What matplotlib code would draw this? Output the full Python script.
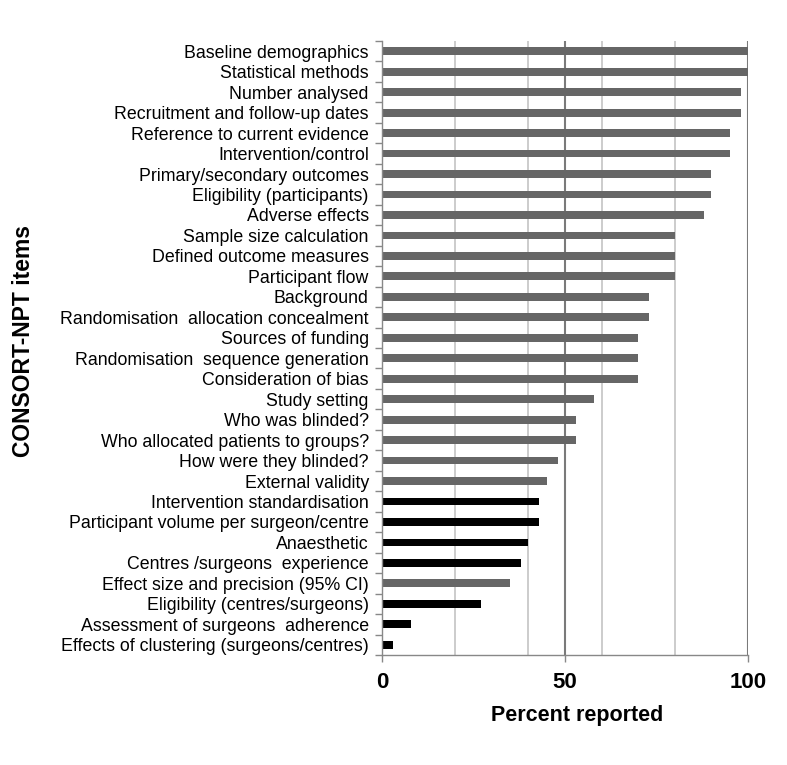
import matplotlib
matplotlib.use("Agg")
import matplotlib.pyplot as plt
import numpy as np

plt.rcParams['font.family'] = ['Liberation Sans', 'DejaVu Sans']

items = [
    "Baseline demographics",
    "Statistical methods",
    "Number analysed",
    "Recruitment and follow-up dates",
    "Reference to current evidence",
    "Intervention/control",
    "Primary/secondary outcomes",
    "Eligibility (participants)",
    "Adverse effects",
    "Sample size calculation",
    "Defined outcome measures",
    "Participant flow",
    "Background",
    "Randomisation  allocation concealment",
    "Sources of funding",
    "Randomisation  sequence generation",
    "Consideration of bias",
    "Study setting",
    "Who was blinded?",
    "Who allocated patients to groups?",
    "How were they blinded?",
    "External validity",
    "Intervention standardisation",
    "Participant volume per surgeon/centre",
    "Anaesthetic",
    "Centres /surgeons  experience",
    "Effect size and precision (95% CI)",
    "Eligibility (centres/surgeons)",
    "Assessment of surgeons  adherence",
    "Effects of clustering (surgeons/centres)",
]
percent = [100, 100, 98, 98, 95, 95, 90, 90, 88, 80, 80, 80, 73, 73, 70, 70, 70,
           58, 53, 53, 48, 45, 43, 43, 40, 38, 35, 27, 8, 3]
# 1 = NPT-specific item (black), 0 = standard CONSORT item (grey)
npt_specific = [0]*22 + [1, 1, 1, 1, 0, 1, 1, 1]

colors = ['#000000' if s else '#666666' for s in npt_specific]

fig = plt.figure(figsize=(7.87, 7.65), dpi=100)
ax = fig.add_axes([382/787, 1-655/765, (748-382)/787, (655-41)/765])

n = len(items)
y = np.arange(n)
ax.set_ylim(n - 0.5, -0.5)
ax.set_xlim(0, 100)

for gx in [20, 40, 60, 80]:
    ax.axvline(gx, color='#c4c4c4', lw=1.2, zorder=0)
for gx in [50, 100]:
    ax.axvline(gx, color='#7a7a7a', lw=1.5, zorder=0)

ax.barh(y, percent, height=0.38, color=colors, zorder=2)

ax.set_yticks(y)
ax.set_yticklabels(items, fontsize=12.8)
ax.tick_params(axis='y', which='major', length=0, pad=9.5)
ax.set_yticks(np.arange(-0.5, n, 1), minor=True)
ax.tick_params(axis='y', which='minor', length=5, color='#888888', width=1)

ax.set_xticks([0, 50, 100])
ax.set_xticklabels(['0', '50', '100'], fontsize=16, fontweight='bold')
ax.tick_params(axis='x', length=5, color='#888888', width=1, pad=7)

for s in ['top', 'right']:
    ax.spines[s].set_visible(False)
for s in ['left', 'bottom']:
    ax.spines[s].set_color('#888888')
    ax.spines[s].set_linewidth(1)

fig.text(577/787, 1-716/765, 'Percent reported', fontsize=15.5, fontweight='bold',
         ha='center', va='center')
fig.text(24/787, 1-341/765, 'CONSORT-NPT items', fontsize=16.5, fontweight='bold',
         ha='center', va='center', rotation=90)

fig.savefig('out.png', dpi=100)
